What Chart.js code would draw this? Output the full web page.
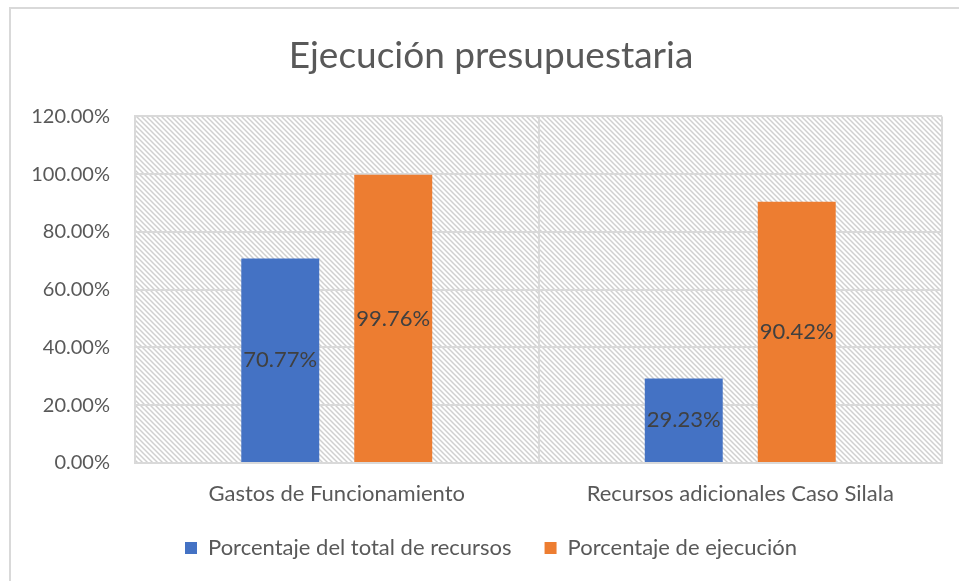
<!DOCTYPE html>
<html lang="es">
<head>
    <meta charset="UTF-8">
    <title>Ejecución presupuestaria</title>
    <script src="https://cdn.jsdelivr.net/npm/chart.js"></script>
    <style>
        html, body {
            margin: 0;
            padding: 0;
            background-color: #ffffff;
            overflow: hidden;
            width: 959px;
            height: 581px;
        }

        .marco {
            position: absolute;
            left: 9px;
            top: 7px;
            width: 2000px;
            height: 2000px;
            border-top: 2px solid #d9d9d9;
            border-left: 2px solid #d9d9d9;
        }

        #grafico {
            position: absolute;
            left: 0;
            top: 0;
        }
    </style>
</head>
<body>
    <div class="marco"></div>
    <canvas id="grafico" width="982" height="581"></canvas>

    <script>
        // Datos del gráfico
        const categorias = ['Gastos de Funcionamiento', 'Recursos adicionales Caso Silala'];
        const porcentajeTotalRecursos = [70.77, 29.23];
        const porcentajeEjecucion = [99.76, 90.42];
        const ejeMin = 0;
        const ejeMax = 120;
        const ejePaso = 20;

        const fuente = 'Lato, "Open Sans", sans-serif';
        const grisTexto = '#595959';
        const grisLinea = '#d9d9d9';

        // Patrón de líneas diagonales para el fondo del área de trazado
        function crearPatron(ctx) {
            const n = 5;
            const tile = document.createElement('canvas');
            tile.width = n;
            tile.height = n;
            const t = tile.getContext('2d');
            t.strokeStyle = '#d0d0d0';
            t.lineWidth = 1.5;
            t.beginPath();
            t.moveTo(-n, -n); t.lineTo(n, n);
            t.moveTo(-n, 0); t.lineTo(0, n);
            t.moveTo(0, -n); t.lineTo(2 * n, n);
            t.moveTo(0, n); t.lineTo(n, 2 * n);
            t.stroke();
            return ctx.createPattern(tile, 'repeat');
        }

        const fondoRayado = {
            id: 'fondoRayado',
            beforeDraw(chart) {
                const { ctx, chartArea } = chart;
                ctx.save();
                ctx.fillStyle = crearPatron(ctx);
                ctx.fillRect(chartArea.left, chartArea.top, chartArea.width, chartArea.height);
                ctx.restore();
            }
        };

        // Etiquetas de datos centradas en cada barra
        const etiquetasDatos = {
            id: 'etiquetasDatos',
            afterDatasetsDraw(chart) {
                const ctx = chart.ctx;
                ctx.save();
                ctx.font = '22px ' + fuente;
                ctx.fillStyle = '#404040';
                ctx.textAlign = 'center';
                ctx.textBaseline = 'middle';
                chart.data.datasets.forEach((ds, i) => {
                    chart.getDatasetMeta(i).data.forEach((bar, j) => {
                        const y = (bar.y + bar.base) / 2;
                        ctx.fillText(ds.data[j].toFixed(2) + '%', bar.x, y);
                    });
                });
                ctx.restore();
            }
        };

        const ctx = document.getElementById('grafico').getContext('2d');
        new Chart(ctx, {
            type: 'bar',
            data: {
                labels: categorias,
                datasets: [
                    {
                        label: 'Porcentaje del total de recursos',
                        data: porcentajeTotalRecursos,
                        backgroundColor: '#4472c4',
                        categoryPercentage: 0.56,
                        barPercentage: 0.69
                    },
                    {
                        label: 'Porcentaje de ejecución',
                        data: porcentajeEjecucion,
                        backgroundColor: '#ed7d31',
                        categoryPercentage: 0.56,
                        barPercentage: 0.69
                    }
                ]
            },
            options: {
                responsive: false,
                animation: false,
                devicePixelRatio: 1,
                layout: {
                    padding: { top: 0, left: 10, right: 10, bottom: 12 }
                },
                plugins: {
                    title: {
                        display: true,
                        text: 'Ejecución presupuestaria',
                        color: grisTexto,
                        font: { family: fuente, size: 37, weight: 'normal', lineHeight: 1.2 },
                        padding: { top: 34, bottom: 38 }
                    },
                    legend: {
                        position: 'bottom',
                        labels: {
                            color: grisTexto,
                            font: { family: fuente, size: 22 },
                            boxWidth: 12,
                            boxHeight: 12,
                            padding: 33
                        }
                    },
                    tooltip: { enabled: false }
                },
                scales: {
                    x: {
                        grid: { color: grisLinea, lineWidth: 2, drawTicks: false },
                        border: { color: grisLinea, width: 2 },
                        ticks: { color: grisTexto, font: { family: fuente, size: 22 }, padding: 18 },
                        afterFit(scale) { scale.height = 41; }
                    },
                    y: {
                        min: ejeMin,
                        max: ejeMax,
                        grid: { color: grisLinea, lineWidth: 2, drawTicks: false },
                        border: { color: grisLinea, width: 2 },
                        ticks: {
                            stepSize: ejePaso,
                            color: grisTexto,
                            font: { family: fuente, size: 20 },
                            padding: 25,
                            callback: (v) => v.toFixed(2) + '%'
                        },
                        afterFit(scale) { scale.width = 125; }
                    },
                    derecha: {
                        position: 'right',
                        grid: { display: false },
                        border: { display: false },
                        ticks: { display: false },
                        afterFit(scale) { scale.width = 30; }
                    }
                }
            },
            plugins: [fondoRayado, etiquetasDatos]
        });
    </script>
</body>
</html>
